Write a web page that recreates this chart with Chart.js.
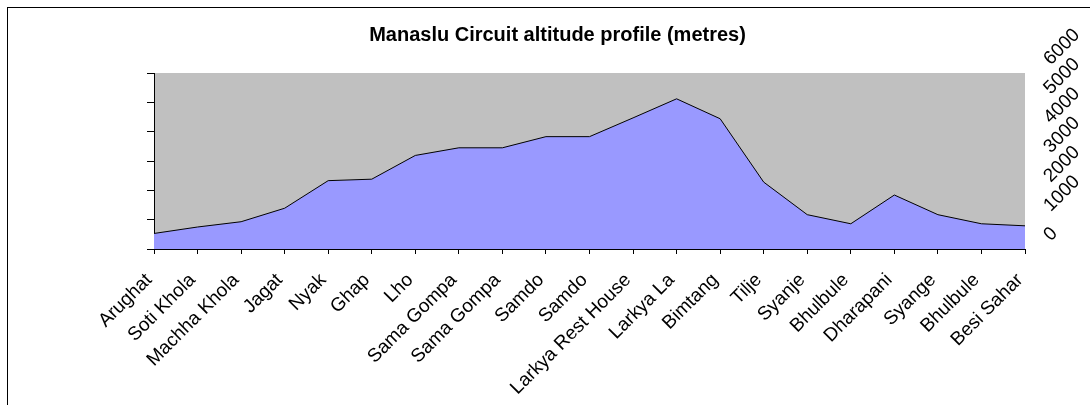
<!DOCTYPE html>
<html>
<head>
<meta charset="utf-8">
<script src="https://cdn.jsdelivr.net/npm/chart.js@4.4.1/dist/chart.umd.min.js"></script>
<style>
  html, body { margin: 0; padding: 0; background: #fff; overflow: hidden; }
  #wrap { position: relative; width: 1090px; height: 405px; }
  #frame { position: absolute; left: 7px; top: 7px; width: 1200px; height: 500px; border: 1px solid #000; box-sizing: border-box; pointer-events: none; }
  canvas { position: absolute; left: 0; top: 0; }
</style>
</head>
<body>
<div id="wrap">
  <div id="frame"></div>
  <canvas id="profile" width="1090" height="405"></canvas>
</div>
<script>
// stages along the trek
const stops = ['Arughat', 'Soti Khola', 'Machha Khola', 'Jagat', 'Nyak', 'Ghap', 'Lho',
  'Sama Gompa', 'Sama Gompa', 'Samdo', 'Samdo', 'Larkya Rest House', 'Larkya La',
  'Bimtang', 'Tilje', 'Syanje', 'Bhulbule', 'Dharapani', 'Syange', 'Bhulbule', 'Besi Sahar'];

// altitude in metres
const altitude = [530, 750, 930, 1390, 2330, 2380, 3190, 3450, 3450, 3830, 3830, 4470,
  5120, 4440, 2280, 1170, 860, 1840, 1170, 860, 790];

const yMin = 0;
const yMax = 6000;
const yStep = 1000;

const font = "'Liberation Sans', Arial, sans-serif";

// grey plot background like the old spreadsheet chart
const plotBg = {
    id: 'plotBg',
    beforeDraw(chart) {
        const a = chart.chartArea;
        const ctx = chart.ctx;
        ctx.save();
        ctx.fillStyle = '#c0c0c0';
        ctx.fillRect(a.left, a.top, a.right - a.left, a.bottom - a.top);
        ctx.restore();
    }
};

new Chart(document.getElementById('profile'), {
    type: 'line',
    data: {
        labels: stops,
        datasets: [{
            data: altitude,
            fill: 'origin',
            backgroundColor: '#9999ff',
            borderColor: '#000',
            borderWidth: 1,
            pointRadius: 0,
            tension: 0
        }]
    },
    options: {
        responsive: false,
        animation: false,
        devicePixelRatio: 1,
        layout: { padding: { left: 25, right: 0, top: 0, bottom: 0 } },
        plugins: {
            legend: { display: false },
            tooltip: { enabled: false },
            title: {
                display: true,
                text: 'Manaslu Circuit altitude profile (metres)',
                color: '#000',
                font: { family: font, size: 20, weight: 'bold' },
                padding: { top: 23, bottom: 26 }
            }
        },
        scales: {
            x: {
                offset: false,
                grid: { drawOnChartArea: false, color: '#000', tickLength: 5 },
                border: { color: '#000' },
                ticks: {
                    color: '#000',
                    autoSkip: false,
                    minRotation: 45,
                    maxRotation: 45,
                    padding: 15,
                    labelOffset: -5,
                    font: { family: font, size: 19 }
                },
                afterFit(scale) { scale.height = 156; }
            },
            y: {
                min: yMin,
                max: yMax,
                ticks: { stepSize: yStep, display: false },
                grid: { drawOnChartArea: false, color: '#000', tickLength: 7 },
                border: { color: '#000' },
                afterFit(scale) { scale.width = 129; }
            },
            y2: {
                position: 'right',
                min: yMin,
                max: yMax,
                grid: { display: false, drawTicks: false },
                border: { display: false },
                ticks: {
                    stepSize: yStep,
                    autoSkip: false,
                    color: '#000',
                    minRotation: 45,
                    maxRotation: 45,
                    padding: 22,
                    labelOffset: -11,
                    font: { family: font, size: 19 },
                    callback: (v) => String(v)
                },
                afterFit(scale) {
                    scale.width = 65;
                    scale.paddingTop = 0;
                    scale.paddingBottom = 0;
                }
            }
        }
    },
    plugins: [plotBg]
});
</script>
</body>
</html>
